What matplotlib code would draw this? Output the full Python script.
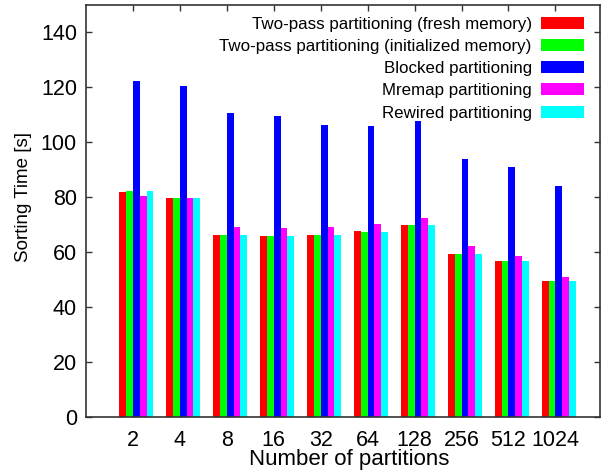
import numpy as np
import matplotlib
matplotlib.use("Agg")
import matplotlib.pyplot as plt

plt.rcParams['font.family'] = ['Liberation Sans', 'DejaVu Sans']

# data
partitions = ['2', '4', '8', '16', '32', '64', '128', '256', '512', '1024']
fresh = [81.8, 79.6, 66.2, 65.8, 66.2, 67.7, 69.8, 59.3, 56.7, 49.5]
initialized = [82.2, 79.6, 66.2, 65.8, 66.2, 67.3, 69.8, 59.3, 56.7, 49.5]
blocked = [122.5, 120.4, 110.5, 109.5, 106.2, 105.8, 107.6, 93.8, 90.9, 84.0]
mremap = [80.4, 79.6, 69.1, 68.7, 69.1, 70.2, 72.4, 62.2, 58.5, 50.9]
rewired = [82.2, 79.6, 66.2, 65.8, 66.2, 67.3, 69.8, 59.3, 56.7, 49.5]

series = [
    ('Two-pass partitioning (fresh memory)', fresh, '#ff0000'),
    ('Two-pass partitioning (initialized memory)', initialized, '#00ff00'),
    ('Blocked partitioning', blocked, '#0000ff'),
    ('Mremap partitioning', mremap, '#ff00ff'),
    ('Rewired partitioning', rewired, '#00ffff'),
]

fig = plt.figure(figsize=(6.01, 4.70), dpi=100)
W, H = 601.0, 470.0
ax = fig.add_axes([86 / W, 1 - 417 / H, (600 - 86) / W, 412 / H])

x = np.arange(len(partitions))
w = 0.145
for j, (label, vals, color) in enumerate(series):
    ax.bar(x + (j - 2) * w, vals, width=w, align='edge', color=color,
           label=label, zorder=3, linewidth=0)

ax.set_xlim(-1.0, 9.95)
ax.set_ylim(0, 150)
ax.set_xticks(x)
ax.set_xticklabels(partitions)
ax.set_yticks(np.arange(0, 141, 20))

ax.tick_params(axis='both', direction='in', length=4.5, width=1,
               color='#333333', labelsize=15.5, top=True, right=True)
ax.tick_params(axis='x', pad=9)
ax.tick_params(axis='y', pad=6.5)
for s in ax.spines.values():
    s.set_color('#333333')
    s.set_linewidth(1.2)
    s.set_zorder(4)

fig.text(24 / W, 1 - 197 / H, 'Sorting Time [s]', rotation=90,
         ha='center', va='center', fontsize=13.5)
fig.text(349 / W, 1 - 459 / H, 'Number of partitions',
         ha='center', va='center', fontsize=16)

ax.legend(loc='upper right', bbox_to_anchor=((584 - 86) / 514, (417 - 16.5) / 412),
          frameon=False, markerfirst=False, fontsize=12.2,
          borderpad=0, borderaxespad=0, handlelength=2.55, handleheight=0.7,
          handletextpad=0.53, labelspacing=0.43)

fig.savefig('out.png', dpi=100)
